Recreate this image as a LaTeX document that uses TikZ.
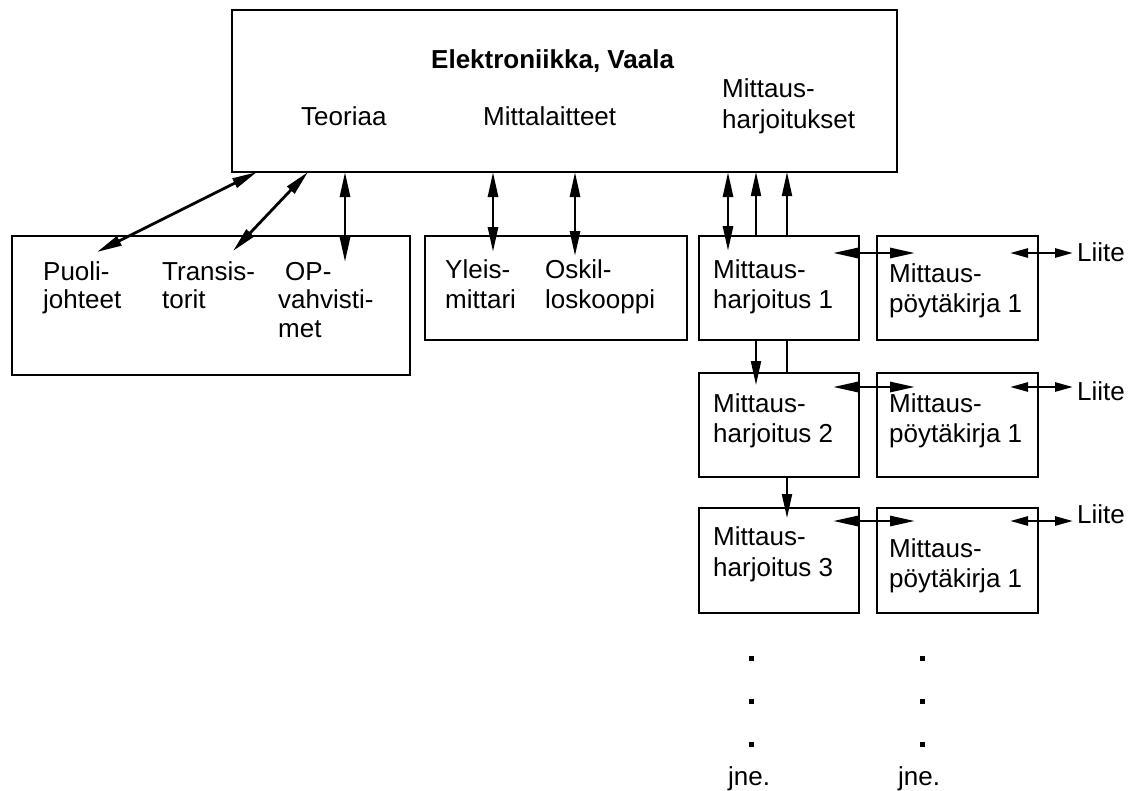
\documentclass[tikz,border=0pt]{standalone}
\usepackage{fontspec}
\setmainfont{Liberation Sans}
\usetikzlibrary{arrows.meta}
\begin{document}
\begin{tikzpicture}[x=1pt,y=-1pt,
  box/.style={draw,line width=2pt,rectangle,inner sep=0pt,outer sep=0pt},
  txt/.style={inner sep=0pt,anchor=base west,font=\fontsize{26}{29}\selectfont},
  ttl/.style={inner sep=0pt,anchor=base west,font=\fontsize{26}{29}\selectfont\bfseries},
  dbl/.style={line width=2.8pt,{Triangle[length=25pt,width=10pt]}-{Triangle[length=25pt,width=10pt]}},
  dbls/.style={line width=2.6pt,{Triangle[length=18pt,width=9pt]}-{Triangle[length=18pt,width=9pt]}},
  sgl/.style={line width=2pt,-{Triangle[length=24pt,width=10pt]}},
  plain/.style={line width=2pt},
  dot/.style={fill=black,inner sep=0pt,minimum size=5pt,rectangle}]
\useasboundingbox (0,0) rectangle (1140,790);
% boxes
\node[box,minimum width=665pt,minimum height=162pt] (top) at (564.5,91) {};
\node[box,minimum width=398pt,minimum height=139pt] (left) at (211,305.5) {};
\node[box,minimum width=262pt,minimum height=104pt] (mid) at (556,288) {};
\node[box,minimum width=160pt,minimum height=104pt] (h1) at (779,288) {};
\node[box,minimum width=161pt,minimum height=104pt] (p1) at (957.5,288) {};
\node[box,minimum width=160pt,minimum height=104pt] (h2) at (779,425) {};
\node[box,minimum width=161pt,minimum height=104pt] (p2) at (957.5,425) {};
\node[box,minimum width=160pt,minimum height=105pt] (h3) at (779,560.5) {};
\node[box,minimum width=161pt,minimum height=105pt] (p3) at (957.5,560.5) {};
% top texts
\node[ttl] (title) at (431,68) {Elektroniikka, Vaala};
\node[txt] (teo) at (301,125) {Teoriaa};
\node[txt] (mla) at (483,125) {Mittalaitteet};
\node[txt] (mh1) at (722,97) {Mittaus-};
\node[txt] (mh2) at (722,128) {harjoitukset};
% left box texts
\node[txt] (pu1) at (43,280) {Puoli-};
\node[txt] (pu2) at (43,308) {johteet};
\node[txt] (tr1) at (162,280) {Transis-};
\node[txt] (tr2) at (162,308) {torit};
\node[txt] (op1) at (285,280) {OP-};
\node[txt] (op2) at (278,308) {vahvisti-};
\node[txt] (op3) at (278,337) {met};
% middle box texts
\node[txt] (yl1) at (445,278) {Yleis-};
\node[txt] (yl2) at (445,308) {mittari};
\node[txt] (os1) at (545,278) {Oskil-};
\node[txt] (os2) at (545,308) {loskooppi};
% right column texts
\node[txt] (h1a) at (713,278) {Mittaus-};
\node[txt] (h1b) at (713,308) {harjoitus 1};
\node[txt] (p1a) at (889,282) {Mittaus-};
\node[txt] (p1b) at (889,312) {pöytäkirja 1};
\node[txt] (h2a) at (713,412) {Mittaus-};
\node[txt] (h2b) at (713,442) {harjoitus 2};
\node[txt] (p2a) at (889,412) {Mittaus-};
\node[txt] (p2b) at (889,442) {pöytäkirja 1};
\node[txt] (h3a) at (713,545) {Mittaus-};
\node[txt] (h3b) at (713,576) {harjoitus 3};
\node[txt] (p3a) at (889,557) {Mittaus-};
\node[txt] (p3b) at (889,587) {pöytäkirja 1};
\node[txt] (li1) at (1077,261) {Liite};
\node[txt] (li2) at (1077,400) {Liite};
\node[txt] (li3) at (1077,523) {Liite};
% free ends
\coordinate (puE) at (97,252);
\coordinate (trE) at (233,251);
\coordinate (opE) at (345,262);
\coordinate (ylE) at (493,252);
\coordinate (osE) at (575,256);
\coordinate (h1E) at (728,251);
\coordinate (h2E) at (756,385);
\coordinate (h3E) at (787,518);
% connectors top <-> lower boxes
\draw[dbl] (257,0 |- top.south) -- (puE);
\draw[dbl] (308,0 |- top.south) -- (trE);
\draw[dbl] (345,0 |- top.south) -- (opE);
\draw[dbl] (493,0 |- top.south) -- (ylE);
\draw[dbl] (575,0 |- top.south) -- (osE);
\draw[dbl] (728,0 |- top.south) -- (h1E);
\draw[sgl] (756,0 |- h1.north) -- (756,0 |- top.south);
\draw[sgl] (787,0 |- h1.north) -- (787,0 |- top.south);
\draw[sgl] (756,0 |- h1.south) -- (h2E);
\draw[plain] (787,0 |- h1.south) -- (787,0 |- h2.north);
\draw[sgl] (787,0 |- h2.south) -- (h3E);
% horizontal arrows
\coordinate (r1a) at (833,253); \coordinate (r1b) at (915,253);
\coordinate (r1c) at (1010,253); \coordinate (r1d) at (1073,253);
\coordinate (r2a) at (833,387); \coordinate (r2b) at (915,387);
\coordinate (r2c) at (1010,387); \coordinate (r2d) at (1073,387);
\coordinate (r3a) at (833,521); \coordinate (r3b) at (915,521);
\coordinate (r3c) at (1010,521); \coordinate (r3d) at (1073,521);
\draw[dbl] (r1a) -- (r1b);
\draw[dbls] (r1c) -- (r1d);
\draw[dbl] (r2a) -- (r2b);
\draw[dbls] (r2c) -- (r2d);
\draw[dbl] (r3a) -- (r3b);
\draw[dbls] (r3c) -- (r3d);
% dots
\node[dot] (d1) at (751,658) {};
\node[dot] (d2) at (751,701) {};
\node[dot] (d3) at (751,744) {};
\node[dot] (d4) at (922,658) {};
\node[dot] (d5) at (922,701) {};
\node[dot] (d6) at (922,744) {};
\node[txt] (j1) at (728,785) {jne.};
\node[txt] (j2) at (898,785) {jne.};
\end{tikzpicture}
\end{document}
